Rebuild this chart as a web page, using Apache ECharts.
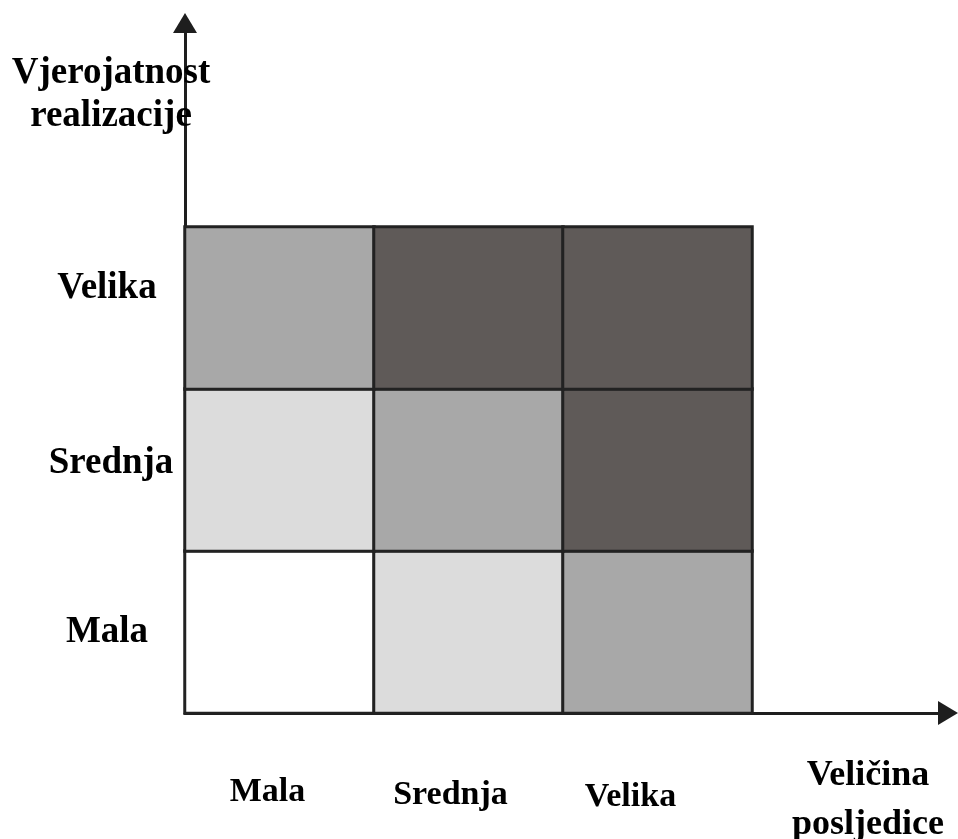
<!DOCTYPE html>
<html>
<head>
<meta charset="utf-8">
<script src="https://cdn.jsdelivr.net/npm/echarts@6/dist/echarts.min.js"></script>
<style>
html,body{margin:0;padding:0;background:#fff;}
#main{width:958px;height:839px;}
</style>
</head>
<body>
<div id="main"></div>
<script>
// Categories
const consequence = ['Mala', 'Srednja', 'Velika'];      // x axis (Veličina posljedice)
const probability = ['Mala', 'Srednja', 'Velika'];      // y axis (Vjerojatnost realizacije), bottom to top
// Risk level per cell: rows = probability (bottom->top), columns = consequence (left->right)
const riskRowMala    = [1, 2, 3];
const riskRowSrednja = [2, 3, 4];
const riskRowVelika  = [3, 4, 4];
const levelColors = ['#ffffff', '#dcdcdc', '#a8a8a8', '#5f5a58'];
const xAxisName = ['Veličina', 'posljedice'];
const yAxisName = ['Vjerojatnost', 'realizacije'];

const rows = [riskRowMala, riskRowSrednja, riskRowVelika];
const data = [];
rows.forEach((row, yi) => row.forEach((v, xi) => data.push([xi, yi, v])));

const FONT = '"Liberation Serif", "Times New Roman", serif';
const xPads = [[0, 24, 0, 0], [3, 36, 0, 0], [5, 54, 0, 0]];
const yStyles = [
  {padding: [1, 4, 0, 0], verticalAlign: 'middle'},
  {padding: [0, 0, 0, 4], verticalAlign: 'bottom', lineHeight: 14},
  {padding: [0, 4, 0, 0], verticalAlign: 'bottom', lineHeight: 40}
];

const chart = echarts.init(document.getElementById('main'), null, {renderer: 'canvas'});
chart.setOption({
  animation: false,
  backgroundColor: '#ffffff',
  grid: [
    {left: 185, top: 227, right: 206, bottom: 126, outerBoundsMode: 'none', containLabel: false},
    {left: 185, top: 23, right: 10, bottom: 126, outerBoundsMode: 'none', containLabel: false}
  ],
  xAxis: [
    {
      type: 'category', gridIndex: 0,
      data: consequence.map((c, i) => ({value: c, textStyle: {padding: xPads[i], align: 'center',
        color: '#000', fontFamily: FONT, fontWeight: 'bold', fontSize: 34}})),
      axisLine: {show: false}, axisTick: {show: false}, splitLine: {show: false},
      axisLabel: {margin: 62, color: '#000', fontFamily: FONT, fontWeight: 'bold', fontSize: 34}
    },
    {
      type: 'value', gridIndex: 1, min: 0, max: 1,
      axisLine: {show: true, symbol: ['none', 'triangle'], symbolSize: [24, 20],
                 lineStyle: {color: '#1e1e1e', width: 3}},
      axisTick: {show: false}, axisLabel: {show: false}, splitLine: {show: false}
    }
  ],
  yAxis: [
    {
      type: 'category', gridIndex: 0,
      data: probability.map((c, i) => ({value: c, textStyle: Object.assign({align: 'center',
        color: '#000', fontFamily: FONT, fontWeight: 'bold', fontSize: 37}, yStyles[i])})),
      axisLine: {show: false}, axisTick: {show: false}, splitLine: {show: false},
      axisLabel: {margin: 76, align: 'center', color: '#000', fontFamily: FONT, fontWeight: 'bold', fontSize: 37}
    },
    {
      type: 'value', gridIndex: 1, min: 0, max: 1,
      axisLine: {show: true, symbol: ['none', 'triangle'], symbolSize: [24, 20],
                 lineStyle: {color: '#1e1e1e', width: 3}},
      axisTick: {show: false}, axisLabel: {show: false}, splitLine: {show: false}
    }
  ],
  visualMap: {
    type: 'piecewise', show: false, seriesIndex: 0, dimension: 2,
    pieces: levelColors.map((c, i) => ({value: i + 1, color: c}))
  },
  series: [{
    type: 'heatmap', xAxisIndex: 0, yAxisIndex: 0,
    data: data,
    itemStyle: {borderColor: '#222222', borderWidth: 3},
    emphasis: {disabled: true}
  }],
  graphic: [
    {type: 'text', x: 111, y: 95, z: 100,
     style: {text: yAxisName.join('\n'), font: 'bold 37px ' + FONT, fill: '#000',
             align: 'center', verticalAlign: 'middle', lineHeight: 43}},
    {type: 'text', x: 868, y: 800, z: 100,
     style: {text: xAxisName.join('\n'), font: 'bold 36px ' + FONT, fill: '#000',
             align: 'center', verticalAlign: 'middle', lineHeight: 49}}
  ]
});
</script>
</body>
</html>
